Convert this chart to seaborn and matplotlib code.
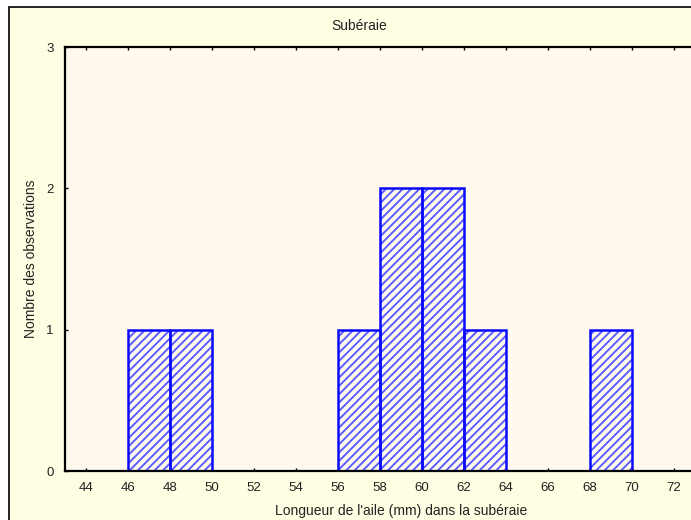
import numpy as np
import pandas as pd
import matplotlib
matplotlib.use("Agg")
import matplotlib.pyplot as plt
from matplotlib.patches import Rectangle
import seaborn as sns

# Wing length measurements (mm), one value per bird
wing_lengths = [47, 49, 57, 59, 59, 61, 61, 63, 69]
bin_edges = list(range(44, 76, 2))
x_ticks = list(range(44, 74, 2))
y_ticks = [0, 1, 2, 3]

sns.set_style("white")
plt.rcParams["font.family"] = ["Liberation Sans", "DejaVu Sans"]
plt.rcParams["hatch.linewidth"] = 1.4

W, H = 691, 520
fig = plt.figure(figsize=(W / 100, H / 100), dpi=100, facecolor="white")

# outer panel with black frame
frame = Rectangle((9 / W, -0.1), 1.2, (H - 7) / H + 0.1,
                  transform=fig.transFigure, facecolor="#FFFDE2",
                  edgecolor="black", linewidth=1.2, zorder=-10)
fig.add_artist(frame)

ax_left, ax_top, ax_bottom = 65, 47, 471
x_min, x_max = 43, 75
px_per_unit = 21
ax = fig.add_axes([ax_left / W, (H - ax_bottom) / H,
                   (x_max - x_min) * px_per_unit / W, (ax_bottom - ax_top) / H])
ax.set_facecolor("#FFF9EE")

df = pd.DataFrame({"aile": wing_lengths})
# hatched fill in a lighter blue, then the solid outline on top
sns.histplot(data=df, x="aile", bins=bin_edges, ax=ax,
             facecolor="#FFF9EE", edgecolor="#5C5CFF", linewidth=0,
             hatch="////", alpha=1.0)
sns.histplot(data=df, x="aile", bins=bin_edges, ax=ax,
             fill=False, color="#0A0AFF", linewidth=1.8)

ax.set_xlim(x_min, x_max)
ax.set_ylim(0, 3)
ax.set_xticks(x_ticks)
ax.set_yticks(y_ticks)
ax.tick_params(axis="x", direction="in", length=2, width=1, pad=8,
               labelsize=9.5, top=True, bottom=True, colors="black",
               labelcolor="#222222")
ax.tick_params(axis="y", direction="in", length=2, width=1, pad=8,
               labelsize=9.5, left=True, colors="black",
               labelcolor="#222222")
for side in ["left", "bottom", "top"]:
    ax.spines[side].set_color("black")
    ax.spines[side].set_linewidth(1.6)
ax.spines["right"].set_visible(False)

ax.set_xlabel("Longueur de l'aile (mm) dans la subéraie", fontsize=10,
              labelpad=7, color="#222222")
ax.set_ylabel("Nombre des observations", fontsize=10, labelpad=6,
              color="#222222")

fig.text(359 / W, (H - 26) / H, "Subéraie", ha="center", va="center",
         fontsize=10, color="#222222")

fig.savefig("out.png", dpi=100, facecolor="white")
